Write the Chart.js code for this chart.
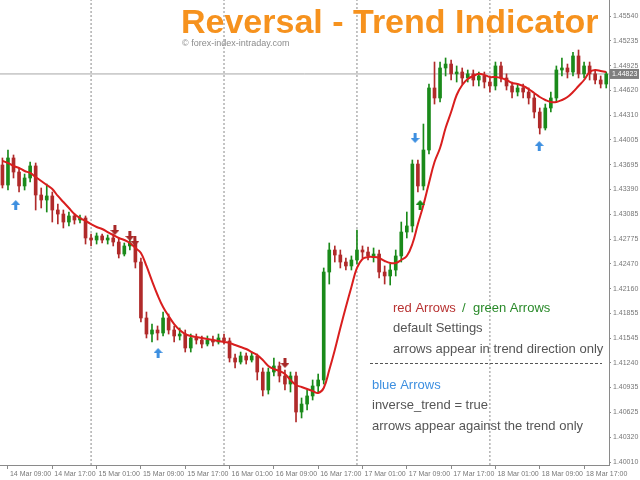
<!DOCTYPE html>
<html lang="en">
<head>
<meta charset="UTF-8">
<title>Reversal - Trend Indicator</title>
<script src="https://cdn.jsdelivr.net/npm/chart.js"></script>
<style>
  html, body { margin: 0; padding: 0; background: #fff; }
  #chart { display: block; }
</style>
</head>
<body>
<canvas id="chart" width="640" height="480"></canvas>
<script>
// hourly candles, first one opens 14 Mar 08:00 (x = hours since 14 Mar 00:00)
var firstHour = 8;

var openPrices = [
  1.43694, 1.43446, 1.43781, 1.43607, 1.43434, 1.43533, 1.43682, 1.43322, 1.43260, 1.43310,
  1.43136, 1.43086, 1.42987, 1.43062, 1.43012, 1.43037, 1.42789, 1.42764, 1.42814, 1.42764,
  1.42789, 1.42739, 1.42590, 1.42690, 1.42727, 1.42491, 1.41797, 1.41598, 1.41648, 1.41611,
  1.41797, 1.41648, 1.41574, 1.41598, 1.41425, 1.41549, 1.41524, 1.41474, 1.41524, 1.41499,
  1.41549, 1.41512, 1.41301, 1.41251, 1.41326, 1.41276, 1.41326, 1.41127, 1.40904, 1.41127,
  1.41202, 1.41078, 1.40978, 1.41078, 1.40631, 1.40730, 1.40830, 1.40954, 1.41028, 1.42367,
  1.42640, 1.42578, 1.42491, 1.42442, 1.42516, 1.42640, 1.42615, 1.42566, 1.42590, 1.42367,
  1.42318, 1.42392, 1.42566, 1.42863, 1.42938, 1.43706, 1.43434, 1.43880, 1.44649, 1.44525,
  1.44897, 1.44946, 1.44824, 1.44847, 1.44773, 1.44824, 1.44748, 1.44798, 1.44723, 1.44674,
  1.44922, 1.44773, 1.44674, 1.44599, 1.44649, 1.44599, 1.44525, 1.44351, 1.44153, 1.44401,
  1.44525, 1.44872, 1.44897, 1.44847, 1.45046, 1.44824, 1.44922, 1.44824, 1.44748, 1.44698
];
var highPrices = [
  1.43781, 1.43880, 1.43818, 1.43657, 1.43582, 1.43731, 1.43719, 1.43409, 1.43458, 1.43359,
  1.43210, 1.43136, 1.43111, 1.43086, 1.43074, 1.43062, 1.42838, 1.42851, 1.42838, 1.42826,
  1.42838, 1.42789, 1.42727, 1.42789, 1.42764, 1.42541, 1.41871, 1.41722, 1.41698, 1.41871,
  1.41846, 1.41698, 1.41673, 1.41648, 1.41598, 1.41598, 1.41574, 1.41574, 1.41574, 1.41598,
  1.41598, 1.41549, 1.41350, 1.41375, 1.41363, 1.41375, 1.41350, 1.41177, 1.41177, 1.41301,
  1.41251, 1.41152, 1.41127, 1.41127, 1.40805, 1.40904, 1.41028, 1.41102, 1.42417, 1.42727,
  1.42690, 1.42640, 1.42541, 1.42566, 1.42888, 1.42690, 1.42677, 1.42665, 1.42640, 1.42442,
  1.42466, 1.42640, 1.42987, 1.43111, 1.43756, 1.43756, 1.44202, 1.44698, 1.44971, 1.44971,
  1.45021, 1.44996, 1.44922, 1.44897, 1.44872, 1.44872, 1.44847, 1.44847, 1.44773, 1.44971,
  1.44971, 1.44824, 1.44723, 1.44698, 1.44698, 1.44649, 1.44574, 1.44401, 1.44450, 1.44599,
  1.44922, 1.45021, 1.44946, 1.45092, 1.45120, 1.44971, 1.44971, 1.44872, 1.44798, 1.44847
];
var lowPrices = [
  1.43409, 1.43384, 1.43533, 1.43359, 1.43384, 1.43483, 1.43136, 1.43161, 1.43111, 1.42987,
  1.42962, 1.42913, 1.42938, 1.42962, 1.42975, 1.42714, 1.42690, 1.42714, 1.42727, 1.42714,
  1.42690, 1.42541, 1.42566, 1.42640, 1.42417, 1.41747, 1.41549, 1.41499, 1.41524, 1.41574,
  1.41598, 1.41499, 1.41524, 1.41375, 1.41375, 1.41474, 1.41425, 1.41450, 1.41450, 1.41474,
  1.41474, 1.41251, 1.41177, 1.41226, 1.41226, 1.41251, 1.41028, 1.40830, 1.40854, 1.41078,
  1.41003, 1.40904, 1.40879, 1.40507, 1.40557, 1.40656, 1.40780, 1.40879, 1.40978, 1.42218,
  1.42491, 1.42417, 1.42392, 1.42392, 1.42466, 1.42541, 1.42516, 1.42491, 1.42293, 1.42218,
  1.42206, 1.42318, 1.42491, 1.42789, 1.42863, 1.43359, 1.43384, 1.43830, 1.44450, 1.44475,
  1.44798, 1.44748, 1.44723, 1.44698, 1.44723, 1.44674, 1.44674, 1.44649, 1.44599, 1.44624,
  1.44723, 1.44624, 1.44525, 1.44550, 1.44525, 1.44450, 1.44277, 1.44078, 1.44128, 1.44351,
  1.44475, 1.44798, 1.44773, 1.44798, 1.44773, 1.44773, 1.44748, 1.44698, 1.44649, 1.44649
];
var closePrices = [
  1.43446, 1.43781, 1.43607, 1.43434, 1.43533, 1.43682, 1.43322, 1.43260, 1.43310, 1.43136,
  1.43086, 1.42987, 1.43062, 1.43012, 1.43037, 1.42789, 1.42764, 1.42814, 1.42764, 1.42789,
  1.42739, 1.42590, 1.42690, 1.42727, 1.42491, 1.41797, 1.41598, 1.41648, 1.41611, 1.41797,
  1.41648, 1.41574, 1.41598, 1.41425, 1.41549, 1.41524, 1.41474, 1.41524, 1.41499, 1.41549,
  1.41512, 1.41301, 1.41251, 1.41326, 1.41276, 1.41326, 1.41127, 1.40904, 1.41127, 1.41202,
  1.41078, 1.40978, 1.41078, 1.40631, 1.40730, 1.40830, 1.40954, 1.41028, 1.42367, 1.42640,
  1.42578, 1.42491, 1.42442, 1.42516, 1.42640, 1.42615, 1.42566, 1.42590, 1.42367, 1.42318,
  1.42392, 1.42566, 1.42863, 1.42938, 1.43706, 1.43434, 1.43880, 1.44649, 1.44525, 1.44897,
  1.44946, 1.44824, 1.44847, 1.44773, 1.44824, 1.44748, 1.44798, 1.44723, 1.44674, 1.44922,
  1.44773, 1.44674, 1.44599, 1.44649, 1.44599, 1.44525, 1.44351, 1.44153, 1.44401, 1.44525,
  1.44872, 1.44897, 1.44847, 1.45046, 1.44824, 1.44922, 1.44824, 1.44748, 1.44698, 1.44823
];
// red trend line of the indicator
var trendLine = [
  1.43744, 1.43719, 1.43682, 1.43657, 1.43620, 1.43595, 1.43545, 1.43496, 1.43446, 1.43396,
  1.43310, 1.43235, 1.43161, 1.43086, 1.43037, 1.43000, 1.42962, 1.42925, 1.42900, 1.42863,
  1.42826, 1.42789, 1.42764, 1.42727, 1.42665, 1.42603, 1.42442, 1.42256, 1.42082, 1.41933,
  1.41822, 1.41722, 1.41648, 1.41598, 1.41574, 1.41561, 1.41549, 1.41536, 1.41524, 1.41512,
  1.41499, 1.41487, 1.41462, 1.41437, 1.41412, 1.41375, 1.41338, 1.41276, 1.41202, 1.41164,
  1.41140, 1.41102, 1.41028, 1.40966, 1.40941, 1.40916, 1.40892, 1.40867, 1.40929, 1.41152,
  1.41400, 1.41673, 1.41933, 1.42181, 1.42417, 1.42528, 1.42553, 1.42553, 1.42541, 1.42504,
  1.42479, 1.42479, 1.42516, 1.42566, 1.42714, 1.42962, 1.43198, 1.43471, 1.43731, 1.43905,
  1.44153, 1.44351, 1.44562, 1.44686, 1.44760, 1.44798, 1.44824, 1.44810, 1.44785, 1.44785,
  1.44773, 1.44748, 1.44711, 1.44698, 1.44674, 1.44636, 1.44587, 1.44537, 1.44500, 1.44475,
  1.44475, 1.44500, 1.44537, 1.44599, 1.44674, 1.44748, 1.44847, 1.44872, 1.44860, 1.44847
];

var currentPrice = 1.44823;

// arrows (hour, price)
var redDownHours = [28.3, 31.0, 31.9, 59.0];
var redDownPrices = [1.42888, 1.42814, 1.42752, 1.41239];
var greenUpHours = [83.4];
var greenUpPrices = [1.43198];
var blueUpHours = [10.4, 36.1, 104.9];
var blueUpPrices = [1.43198, 1.41363, 1.43930];
var blueDownHours = [82.5];
var blueDownPrices = [1.44029];

var yTicks = [1.40010, 1.40320, 1.40625, 1.40935, 1.41240, 1.41545, 1.41855, 1.42160, 1.42470, 1.42775,
  1.43085, 1.43390, 1.43695, 1.44005, 1.44310, 1.44620, 1.44925, 1.45235, 1.45540];
var xTickHours = [9, 17, 25, 33, 41, 49, 57, 65, 73, 81, 89, 97, 105, 113];
var xTickLabels = ['14 Mar 09:00', '14 Mar 17:00', '15 Mar 01:00', '15 Mar 09:00', '15 Mar 17:00',
  '16 Mar 01:00', '16 Mar 09:00', '16 Mar 17:00', '17 Mar 01:00', '17 Mar 09:00', '17 Mar 17:00',
  '18 Mar 01:00', '18 Mar 09:00', '18 Mar 17:00'];
var dayBreaks = [24, 48, 72, 96];

var xMin = 7.56, xMax = 117.5;
var yMin = 1.39974, yMax = 1.45740;

var upColor = '#1a8a1a';
var downColor = '#b02a2a';

function arrowIcon(color, up) {
  var c = document.createElement('canvas');
  c.width = 9; c.height = 10;
  var g = c.getContext('2d');
  g.fillStyle = color;
  g.beginPath();
  if (up) {
    g.moveTo(4.5, 0); g.lineTo(9, 5); g.lineTo(6, 5); g.lineTo(6, 10);
    g.lineTo(3, 10); g.lineTo(3, 5); g.lineTo(0, 5);
  } else {
    g.moveTo(3, 0); g.lineTo(6, 0); g.lineTo(6, 5); g.lineTo(9, 5);
    g.lineTo(4.5, 10); g.lineTo(0, 5); g.lineTo(3, 5);
  }
  g.closePath();
  g.fill();
  return c;
}

var candleHours = openPrices.map(function (o, i) { return firstHour + i; });
var candleColors = openPrices.map(function (o, i) { return closePrices[i] >= o ? upColor : downColor; });

function points(xs, ys) {
  return xs.map(function (x, i) { return { x: x, y: ys[i] }; });
}

function arrowSet(xs, ys, color, up) {
  return {
    type: 'scatter',
    data: points(xs, ys),
    pointStyle: arrowIcon(color, up),
    pointRadius: 5,
    order: 0
  };
}

var datasets = [];

dayBreaks.forEach(function (h) {
  datasets.push({
    type: 'line',
    data: [{ x: h, y: yMin }, { x: h, y: yMax }],
    borderColor: '#8a8a8a',
    borderWidth: 1,
    borderDash: [2, 2],
    pointRadius: 0,
    order: 6
  });
});

datasets.push({
  type: 'line',
  data: [{ x: xMin, y: currentPrice }, { x: xMax, y: currentPrice }],
  borderColor: '#a6a6a6',
  borderWidth: 1,
  pointRadius: 0,
  order: 5
});

datasets.push({
  type: 'bar',
  data: candleHours.map(function (h, i) { return { x: h, y: [lowPrices[i], highPrices[i]] }; }),
  backgroundColor: candleColors,
  barThickness: 1,
  grouped: false,
  order: 4
});

datasets.push({
  type: 'bar',
  data: candleHours.map(function (h, i) { return { x: h, y: [openPrices[i], closePrices[i]] }; }),
  backgroundColor: candleColors,
  barThickness: 3,
  grouped: false,
  order: 3
});

datasets.push({
  type: 'line',
  data: points(candleHours, trendLine),
  borderColor: '#d91e1e',
  borderWidth: 2,
  pointRadius: 0,
  tension: 0.4,
  order: 1
});

datasets.push(arrowSet(redDownHours, redDownPrices, '#a82828', false));
datasets.push(arrowSet(greenUpHours, greenUpPrices, '#168a16', true));
datasets.push(arrowSet(blueUpHours, blueUpPrices, '#3d8fe0', true));
datasets.push(arrowSet(blueDownHours, blueDownPrices, '#3d8fe0', false));

var textPlugin = {
  id: 'texts',
  beforeDraw: function (chart) {
    var ctx = chart.ctx;
    ctx.save();
    ctx.fillStyle = '#fff';
    ctx.fillRect(0, 0, chart.width, chart.height);
    ctx.restore();
  },
  afterDraw: function (chart) {
    var ctx = chart.ctx;
    ctx.save();
    ctx.textBaseline = 'alphabetic';
    ctx.textAlign = 'left';

    // title
    ctx.font = 'bold 34px "Liberation Sans", Arial, sans-serif';
    ctx.fillStyle = '#f6921e';
    ctx.fillText('Reversal - Trend Indicator', 181, 33);
    ctx.font = '9px "Liberation Sans", Arial, sans-serif';
    ctx.fillStyle = '#8c8c8c';
    ctx.fillText('\u00a9 forex-index-intraday.com', 182, 46);

    // notes
    ctx.font = '13px "Liberation Sans", Arial, sans-serif';
    ctx.fillStyle = '#b83232';
    ctx.fillText('red Arrows', 393, 312);
    ctx.fillStyle = '#2a8a2a';
    ctx.fillText('/', 462, 312);
    ctx.fillText('green Arrows', 473, 312);
    ctx.fillStyle = '#555';
    ctx.fillText('default Settings', 393, 332);
    ctx.fillText('arrows appear in trend direction only', 393, 353);

    ctx.strokeStyle = '#555';
    ctx.lineWidth = 1;
    ctx.setLineDash([3, 2]);
    ctx.beginPath();
    ctx.moveTo(370, 363.5);
    ctx.lineTo(602, 363.5);
    ctx.stroke();
    ctx.setLineDash([]);

    ctx.fillStyle = '#3d8fe0';
    ctx.fillText('blue Arrows', 372, 389);
    ctx.fillStyle = '#555';
    ctx.fillText('inverse_trend = true', 372, 409);
    ctx.fillText('arrows appear against the trend only', 372, 430);

    // current price tag on the axis
    var y = chart.scales.y.getPixelForValue(currentPrice);
    ctx.fillStyle = '#7f7f7f';
    ctx.fillRect(610, y - 5, 29, 10);
    ctx.fillStyle = '#fff';
    ctx.font = '7px "Liberation Sans", Arial, sans-serif';
    ctx.textBaseline = 'middle';
    ctx.fillText(currentPrice.toFixed(5), 612, y);
    ctx.restore();
  }
};

new Chart(document.getElementById('chart'), {
  type: 'bar',
  data: { datasets: datasets },
  options: {
    responsive: false,
    animation: false,
    devicePixelRatio: 1,
    layout: { padding: 0, autoPadding: false },
    plugins: { legend: { display: false }, tooltip: { enabled: false } },
    scales: {
      x: {
        type: 'linear',
        position: 'bottom',
        min: xMin,
        max: xMax,
        offset: false,
        grid: { offset: false, drawOnChartArea: false, tickLength: 4, color: '#8a8a8a' },
        border: { color: '#8a8a8a' },
        afterBuildTicks: function (s) {
          s.ticks = xTickHours.map(function (v) { return { value: v }; });
        },
        afterFit: function (s) {
          s.height = 15;
          s.paddingLeft = 0;
          s.paddingRight = 0;
        },
        ticks: {
          autoSkip: false,
          maxRotation: 0,
          align: 'start',
          labelOffset: 2,
          padding: 1,
          color: '#777',
          font: { family: '"Liberation Sans", Arial, sans-serif', size: 7 },
          callback: function (v) {
            var k = xTickHours.indexOf(v);
            return k >= 0 ? xTickLabels[k] : '';
          }
        }
      },
      y: {
        type: 'linear',
        position: 'right',
        min: yMin,
        max: yMax,
        grid: { drawOnChartArea: false, tickLength: 2, color: '#8a8a8a' },
        border: { color: '#8a8a8a' },
        afterBuildTicks: function (s) {
          s.ticks = yTicks.map(function (v) { return { value: v }; });
        },
        afterFit: function (s) {
          s.width = 31;
          s.paddingTop = 0;
          s.paddingBottom = 0;
        },
        ticks: {
          padding: 2,
          color: '#777',
          font: { family: '"Liberation Sans", Arial, sans-serif', size: 7 },
          callback: function (v) { return v.toFixed(5); }
        }
      }
    }
  },
  plugins: [textPlugin]
});
</script>
</body>
</html>
